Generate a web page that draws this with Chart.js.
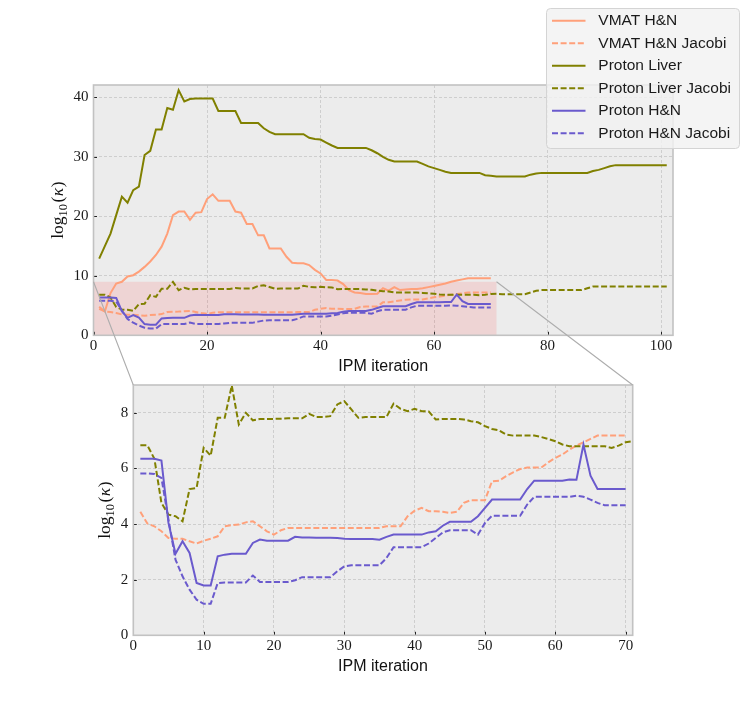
<!DOCTYPE html>
<html>
<head>
<meta charset="utf-8">
<script src="https://cdn.jsdelivr.net/npm/chart.js@4.4.1/dist/chart.umd.min.js"></script>
<style>
  html, body { margin: 0; padding: 0; background: #ffffff; }
  #wrap { position: relative; width: 748px; height: 714px; overflow: hidden; }
  #wrap canvas { position: absolute; left: 0; top: 0; }
</style>
</head>
<body>
<div id="wrap">
  <canvas id="topCanvas" width="748" height="714"></canvas>
  <canvas id="zoomCanvas" width="748" height="714"></canvas>
</div>
<script>
// ---------------- data (log10 condition number per IPM iteration, starting at iteration 1) ----------------
const vmatHN = [4.8,4.0,7.1,8.7,9.0,9.9,10.1,10.7,11.5,12.4,
  13.5,14.9,17.1,20.2,20.8,20.8,19.4,20.6,20.7,22.9,
  23.7,22.6,22.6,22.6,20.8,20.6,18.7,18.7,16.8,16.8,
  14.6,14.6,14.6,13.2,12.2,12.1,12.1,11.8,11.0,10.4,
  9.3,9.3,9.2,8.6,7.6,7.2,7.1,6.95,6.95,7.0,
  7.9,7.5,8.1,7.6,7.7,7.8,7.8,7.9,8.1,8.3,
  8.5,8.7,9.0,9.2,9.4,9.6,9.6,9.6,9.6,9.6];

const vmatHNJacobi = [4.44,4.02,3.92,3.74,3.5,3.47,3.47,3.38,3.3,3.4,
  3.47,3.56,3.92,3.96,3.98,4.06,4.1,3.92,3.74,3.62,
  3.78,3.86,3.86,3.86,3.86,3.86,3.86,3.86,3.86,3.86,
  3.86,3.86,3.86,3.86,3.86,3.92,3.92,3.92,4.28,4.48,
  4.58,4.46,4.46,4.44,4.4,4.44,4.76,4.86,4.86,4.86,
  5.54,5.56,5.72,5.86,5.98,6.03,6.03,6.03,6.22,6.38,
  6.5,6.68,6.82,6.94,7.06,7.18,7.18,7.18,7.18,7.18];

const protonLiver = [12.9,15.0,17.1,20.2,23.3,22.3,24.4,25.0,30.3,31.0,
  34.6,34.6,38.2,37.9,41.2,39.3,39.7,39.8,39.8,39.8,
  39.8,37.7,37.7,37.7,37.7,35.7,35.7,35.7,35.7,34.8,
  34.2,33.8,33.8,33.8,33.8,33.8,33.8,33.2,33.0,32.9,
  32.4,31.9,31.5,31.5,31.5,31.5,31.5,31.5,31.1,30.6,
  30.0,29.5,29.2,29.2,29.2,29.2,29.2,28.8,28.4,28.1,
  27.8,27.5,27.3,27.3,27.3,27.3,27.3,27.3,26.9,26.8,
  26.7,26.7,26.7,26.7,26.7,26.7,27.0,27.2,27.3,27.3,
  27.3,27.3,27.3,27.3,27.3,27.3,27.3,27.6,27.8,28.1,
  28.4,28.6,28.6,28.6,28.6,28.6,28.6,28.6,28.6,28.6,
  28.6];

const protonLiverJacobi = [6.83,6.83,6.35,4.76,4.34,4.28,4.1,5.26,5.3,6.74,
  6.46,7.82,7.82,8.98,7.58,8.0,7.73,7.78,7.78,7.78,
  7.79,7.8,7.8,7.8,7.96,7.85,7.85,7.88,8.3,8.42,
  8.12,7.82,7.85,7.85,7.85,7.85,8.33,8.14,8.06,8.14,
  8.06,8.05,7.76,7.78,7.78,7.78,7.76,7.7,7.66,7.52,
  7.42,7.37,7.22,7.18,7.18,7.18,7.18,7.13,7.06,6.98,
  6.86,6.8,6.8,6.8,6.8,6.8,6.8,6.74,6.82,6.94,
  6.98,6.9,6.9,6.9,6.9,6.9,7.2,7.5,7.6,7.6,
  7.6,7.6,7.6,7.6,7.6,7.6,7.9,8.2,8.2,8.2,
  8.2,8.2,8.2,8.2,8.2,8.2,8.2,8.2,8.2,8.2,
  8.2];

const protonHN = [6.35,6.35,6.35,6.28,4.04,2.93,3.38,2.96,1.88,1.79,
  1.79,2.84,2.9,2.93,2.93,2.93,3.32,3.44,3.4,3.4,
  3.4,3.4,3.54,3.52,3.52,3.51,3.51,3.51,3.5,3.47,
  3.46,3.46,3.46,3.46,3.44,3.54,3.62,3.62,3.62,3.62,
  3.62,3.7,3.74,3.94,4.08,4.08,4.08,4.08,4.28,4.58,
  4.88,4.88,4.88,4.88,4.88,5.26,5.56,5.56,5.56,5.56,
  5.56,5.6,5.59,6.86,5.74,5.26,5.26,5.26,5.26,5.26];

const protonHNJacobi = [5.82,5.82,5.8,5.66,4.16,2.72,2.12,1.64,1.28,1.13,
  1.13,1.88,1.9,1.9,1.9,1.9,2.15,1.92,1.92,1.92,
  1.92,1.92,1.98,2.09,2.09,2.09,2.09,2.09,2.3,2.48,
  2.52,2.52,2.52,2.52,2.52,2.78,3.17,3.17,3.17,3.17,
  3.17,3.3,3.5,3.7,3.78,3.78,3.78,3.78,3.62,4.04,
  4.3,4.3,4.3,4.3,4.3,4.7,4.98,4.98,4.98,4.98,
  4.98,4.98,5.02,4.98,4.88,4.76,4.68,4.68,4.68,4.68];

// tick labels
const topXTicks = [0, 20, 40, 60, 80, 100];
const topYTicks = [0, 10, 20, 30, 40];
const zoomXTicks = [0, 10, 20, 30, 40, 50, 60, 70];
const zoomYTicks = [0, 2, 4, 6, 8];

// zoomed region (data coordinates)
const zoomX = [0, 71];
const zoomY = [0, 9];
const topXRange = [0, 102.1];
const topYRange = [0, 42.07];

const xTitle = 'IPM iteration';

// ---------------- styles ----------------
const C_VMAT = '#FFA07A';
const C_LIVER = '#808000';
const C_HN = '#6A5ACD';
const DASH = [6, 2.6];
const TICK_FONT = { family: "'Liberation Serif', 'DejaVu Serif', serif", size: 15 };
const TITLE_FONT = { family: "'Liberation Sans', Arial, sans-serif", size: 16 };

function toPoints(arr) { return arr.map((v, i) => ({ x: i + 1, y: v })); }

function ds(label, arr, color, dashed, order) {
  return {
    label, data: toPoints(arr), borderColor: color, backgroundColor: color,
    borderWidth: 2, borderDash: dashed ? DASH : [], pointRadius: 0, tension: 0,
    fill: false, order
  };
}

// ---------------- plugins ----------------
const bgPlugin = {
  id: 'bg',
  beforeDraw(chart) {
    const { ctx, chartArea: a } = chart;
    ctx.save();
    ctx.fillStyle = '#ececec';
    ctx.fillRect(a.left, a.top, a.right - a.left, a.bottom - a.top);
    ctx.restore();
  }
};

const shadePlugin = {
  id: 'shade',
  beforeDatasetsDraw(chart) {
    const { ctx, scales: { x, y } } = chart;
    const x0 = x.getPixelForValue(zoomX[0]), x1 = x.getPixelForValue(zoomX[1]);
    const y0 = y.getPixelForValue(zoomY[0]), y1 = y.getPixelForValue(zoomY[1]);
    ctx.save();
    ctx.fillStyle = 'rgba(255,0,0,0.1)';
    ctx.fillRect(x0, y1, x1 - x0, y0 - y1);
    ctx.restore();
  }
};

const framePlugin = {
  id: 'frame',
  afterDatasetsDraw(chart) {
    const { ctx, chartArea: a, scales: { x, y } } = chart;
    ctx.save();
    // inward tick marks
    ctx.strokeStyle = '#222';
    ctx.lineWidth = 1;
    ctx.beginPath();
    x.ticks.forEach(t => {
      const px = Math.round(x.getPixelForValue(t.value)) + 0.5;
      ctx.moveTo(px, a.bottom); ctx.lineTo(px, a.bottom - 3.5);
    });
    y.ticks.forEach(t => {
      const py = Math.round(y.getPixelForValue(t.value)) + 0.5;
      ctx.moveTo(a.left, py); ctx.lineTo(a.left + 3.5, py);
    });
    ctx.stroke();
    // spines
    ctx.strokeStyle = '#c2c2c2';
    ctx.lineWidth = 1.6;
    ctx.strokeRect(a.left, a.top, a.right - a.left, a.bottom - a.top);
    ctx.restore();
  }
};

const yLabelPlugin = {
  id: 'ylabel',
  afterDraw(chart) {
    const { ctx, chartArea: a } = chart;
    const cx = chart.scales.y.left + 9.6;
    const cy = (a.top + a.bottom) / 2;
    const fam = "'Liberation Serif', 'DejaVu Serif', serif";
    const big = "17.5px " + fam, small = "12.5px " + fam, ital = "italic 17.5px " + fam;
    ctx.save();
    ctx.translate(cx, cy);
    ctx.rotate(-Math.PI / 2);
    ctx.fillStyle = '#111';
    ctx.textBaseline = 'alphabetic';
    ctx.textAlign = 'left';
    const parts = [
      { t: 'log', f: big, dy: 0 },
      { t: '10', f: small, dy: 4 },
      { t: '(', f: big, dy: 0, pre: 1.5 },
      { t: 'κ', f: ital, dy: 0, pre: 0.5 },
      { t: ')', f: big, dy: 0, pre: 0.5 }
    ];
    let w = 0;
    parts.forEach(p => { ctx.font = p.f; p.w = ctx.measureText(p.t).width; w += p.w + (p.pre || 0); });
    let xx = -w / 2;
    const base = 5;
    parts.forEach(p => {
      xx += (p.pre || 0);
      ctx.font = p.f;
      ctx.fillText(p.t, xx, base + p.dy);
      xx += p.w;
    });
    ctx.restore();
  }
};

const legendEntries = [
  ['VMAT H&N', C_VMAT, false],
  ['VMAT H&N Jacobi', C_VMAT, true],
  ['Proton Liver', C_LIVER, false],
  ['Proton Liver Jacobi', C_LIVER, true],
  ['Proton H&N', C_HN, false],
  ['Proton H&N Jacobi', C_HN, true]
];

const legendPlugin = {
  id: 'customLegend',
  afterDraw(chart) {
    const ctx = chart.ctx;
    const bx = 546, by = 8, bw = 193, bh = 140;
    ctx.save();
    ctx.beginPath();
    ctx.roundRect(bx + 0.5, by + 0.5, bw, bh, 4);
    ctx.fillStyle = 'rgba(242,242,242,0.82)';
    ctx.fill();
    ctx.strokeStyle = '#d4d4d4';
    ctx.lineWidth = 1;
    ctx.stroke();
    ctx.font = "15.5px 'Liberation Sans', Arial, sans-serif";
    ctx.textBaseline = 'middle';
    ctx.textAlign = 'left';
    legendEntries.forEach((e, i) => {
      const yy = by + 12.7 + i * 22.5;
      ctx.beginPath();
      ctx.strokeStyle = e[1];
      ctx.lineWidth = 2;
      ctx.setLineDash(e[2] ? DASH : []);
      ctx.moveTo(bx + 6, yy); ctx.lineTo(bx + 39.5, yy);
      ctx.stroke();
      ctx.setLineDash([]);
      ctx.fillStyle = '#1a1a1a';
      ctx.fillText(e[0], bx + 52.3, yy + 0.5);
    });
    ctx.restore();
  }
};

function axisOpts(range, tickList, fitFn, horizontal) {
  return {
    type: 'linear', min: range[0], max: range[1],
    afterBuildTicks: s => { s.ticks = tickList.map(v => ({ value: v })); },
    afterFit: fitFn,
    grid: { color: '#c6c6c6', lineWidth: 0.8, drawTicks: false },
    border: { display: false, dash: [3, 2] },
    ticks: { font: TICK_FONT, color: '#1a1a1a', padding: horizontal ? 2 : 5, maxRotation: 0, autoSkip: false, includeBounds: false },
    title: horizontal ? { display: true, text: xTitle, font: TITLE_FONT, color: '#111', padding: 0 } : { display: false }
  };
}

// ---------------- top (overview) chart ----------------
const topChart = new Chart(document.getElementById('topCanvas'), {
  type: 'line',
  data: {
    datasets: [
      ds('VMAT H&N', vmatHN, C_VMAT, false, 6),
      ds('VMAT H&N Jacobi', vmatHNJacobi, C_VMAT, true, 5),
      ds('Proton Liver', protonLiver, C_LIVER, false, 4),
      ds('Proton Liver Jacobi', protonLiverJacobi, C_LIVER, true, 3),
      ds('Proton H&N', protonHN, C_HN, false, 2),
      ds('Proton H&N Jacobi', protonHNJacobi, C_HN, true, 1)
    ]
  },
  options: {
    responsive: false, animation: false, devicePixelRatio: 1,
    layout: { padding: { left: 48.7, top: 85, right: 75, bottom: 337.7 } },
    plugins: { legend: { display: false }, tooltip: { enabled: false } },
    events: [],
    scales: {
      x: axisOpts(topXRange, topXTicks, s => { s.height = 41; }, true),
      y: axisOpts(topYRange, topYTicks, s => { s.width = 44.8; }, false)
    }
  },
  plugins: [bgPlugin, shadePlugin, framePlugin, yLabelPlugin, legendPlugin]
});

// ---------------- zoom connector lines ----------------
const connectorPlugin = {
  id: 'connector',
  afterDraw(chart) {
    const { ctx, chartArea: a } = chart;
    const tx = topChart.scales.x, ty = topChart.scales.y;
    const xl = tx.getPixelForValue(zoomX[0]), xr = tx.getPixelForValue(zoomX[1]);
    const yt = ty.getPixelForValue(zoomY[1]);
    ctx.save();
    ctx.strokeStyle = '#adadad';
    ctx.lineWidth = 1.1;
    ctx.beginPath();
    ctx.moveTo(xl, yt); ctx.lineTo(a.left, a.top);
    ctx.moveTo(xr, yt); ctx.lineTo(a.right, a.top);
    ctx.stroke();
    ctx.restore();
  }
};

// ---------------- bottom (zoomed) chart ----------------
new Chart(document.getElementById('zoomCanvas'), {
  type: 'line',
  data: {
    datasets: [
      ds('VMAT H&N Jacobi', vmatHNJacobi, C_VMAT, true, 4),
      ds('Proton Liver Jacobi', protonLiverJacobi, C_LIVER, true, 3),
      ds('Proton H&N', protonHN, C_HN, false, 2),
      ds('Proton H&N Jacobi', protonHNJacobi, C_HN, true, 1)
    ]
  },
  options: {
    responsive: false, animation: false, devicePixelRatio: 1,
    layout: { padding: { left: 95.4, top: 385, right: 115.3, bottom: 37.7 } },
    plugins: { legend: { display: false }, tooltip: { enabled: false } },
    events: [],
    scales: {
      x: axisOpts(zoomX, zoomXTicks, s => { s.height = 41; }, true),
      y: axisOpts(zoomY, zoomYTicks, s => { s.width = 37.9; }, false)
    }
  },
  plugins: [bgPlugin, framePlugin, yLabelPlugin, connectorPlugin]
});
</script>
</body>
</html>
